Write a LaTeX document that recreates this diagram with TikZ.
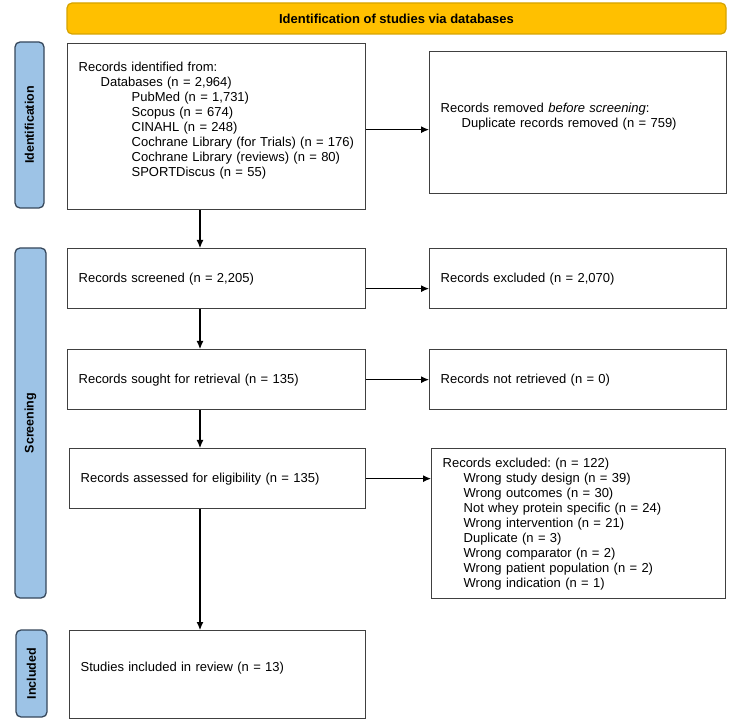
\documentclass[tikz,border=0pt]{standalone}
\usepackage{fontspec}
\setmainfont{Liberation Sans}
\frenchspacing
\usetikzlibrary{arrows.meta}
\definecolor{headyellow}{HTML}{FFC000}
\definecolor{headedge}{HTML}{D6A300}
\definecolor{phaseblue}{HTML}{9DC3E6}
\definecolor{phaseedge}{HTML}{36475B}
\definecolor{boxedge}{HTML}{404040}
\begin{document}
\begin{tikzpicture}[x=1pt,y=-1pt,
    box/.style={draw=boxedge,line width=1.3pt,anchor=north west,align=left,
        inner xsep=11pt,inner ysep=0pt,font=\fontsize{13}{15}\selectfont},
    phase/.style={draw=phaseedge,fill=phaseblue,line width=1.3pt,rounded corners=5pt,
        rotate=90,inner sep=0pt,font=\bfseries\fontsize{12.5}{15}\selectfont},
    arr/.style={-{Latex[length=8pt,width=7pt]},line width=1.1pt}]
    \useasboundingbox (0,0) rectangle (740,722);
    % header bar
    \node[draw=headedge,fill=headyellow,line width=1.2pt,rounded corners=5pt,
        minimum width=659pt,minimum height=31pt,inner sep=0pt,
        font=\bfseries\fontsize{13}{15}\selectfont] (head) at (396.5,18.5)
        {Identification of studies via databases};
    % phase labels
    \node[phase,minimum width=166pt,minimum height=29pt] (pident) at (29.5,125) {Identification};
    \node[phase,minimum width=350pt,minimum height=31pt] (pscreen) at (30.5,423) {Screening};
    \node[phase,minimum width=87pt,minimum height=31pt] (pincl) at (31.5,673.5) {Included};
    % left column
    \node[box,text width=276pt,minimum height=166pt] (ident) at (67,43)
        {Records identified from:\\
        \hspace*{22pt}Databases (n = 2,964)\\
        \hspace*{53pt}PubMed (n = 1,731)\\
        \hspace*{53pt}Scopus (n = 674)\\
        \hspace*{53pt}CINAHL (n = 248)\\
        \hspace*{53pt}Cochrane Library (for Trials) (n = 176)\\
        \hspace*{53pt}Cochrane Library (reviews) (n = 80)\\
        \hspace*{53pt}SPORTDiscus (n = 55)\\
        \mbox{}};
    \node[box,text width=276pt,minimum height=60pt] (screened) at (67,248)
        {Records screened (n = 2,205)};
    \node[box,text width=276pt,minimum height=60pt] (sought) at (67,349)
        {Records sought for retrieval (n = 135)};
    \node[box,text width=274pt,minimum height=60pt] (assessed) at (69,448)
        {Records assessed for eligibility (n = 135)};
    \node[box,text width=274pt,minimum height=88pt] (included) at (69,630)
        {Studies included in review (n = 13)\\ \mbox{}};
    % right column
    \node[box,text width=275pt,minimum height=142pt] (removed) at (429,51)
        {Records removed \textit{before screening}:\\
        \hspace*{21pt}Duplicate records removed (n = 759)\\
        \mbox{}};
    \node[box,text width=275pt,minimum height=60pt] (excluded) at (429,248)
        {Records excluded (n = 2,070)};
    \node[box,text width=275pt,minimum height=60pt] (notretr) at (429,349)
        {Records not retrieved (n = 0)};
    \node[box,text width=272pt,minimum height=150pt] (reasons) at (431,448)
        {Records excluded: (n = 122)\\
        \hspace*{21pt}Wrong study design (n = 39)\\
        \hspace*{21pt}Wrong outcomes (n = 30)\\
        \hspace*{21pt}Not whey protein specific (n = 24)\\
        \hspace*{21pt}Wrong intervention (n = 21)\\
        \hspace*{21pt}Duplicate (n = 3)\\
        \hspace*{21pt}Wrong comparator (n = 2)\\
        \hspace*{21pt}Wrong patient population (n = 2)\\
        \hspace*{21pt}Wrong indication (n = 1)};
    % connectors
    \coordinate (col) at (200,0);
    \draw[arr] (ident.south -| col) -- (screened.north -| col);
    \draw[arr] (screened.south -| col) -- (sought.north -| col);
    \draw[arr] (sought.south -| col) -- (assessed.north -| col);
    \draw[arr] (assessed.south -| col) -- (included.north -| col);
    \draw[arr] ([yshift=-3pt]ident.east) -- ([yshift=-3pt]ident.east -| removed.west);
    \draw[arr] ([yshift=-10pt]screened.east) -- ([yshift=-10pt]screened.east -| excluded.west);
    \draw[arr] (sought.east) -- (sought.east -| notretr.west);
    \draw[arr] (assessed.east) -- (assessed.east -| reasons.west);
\end{tikzpicture}
\end{document}
